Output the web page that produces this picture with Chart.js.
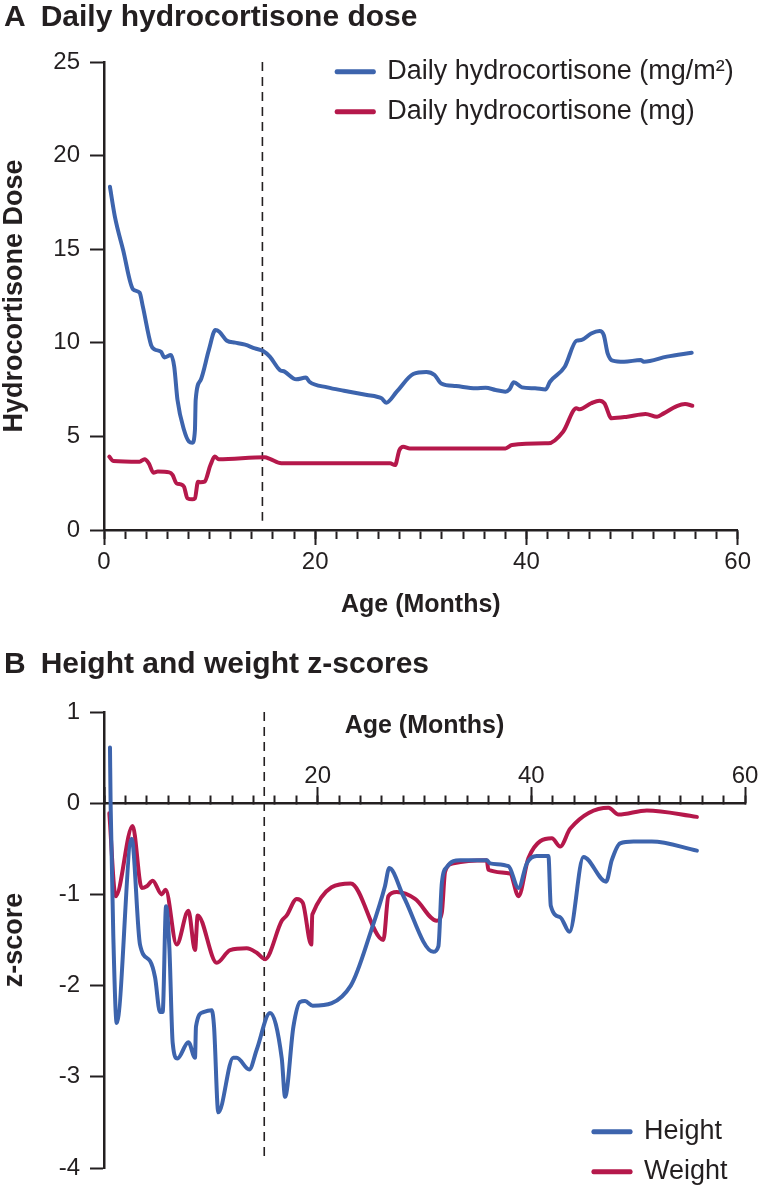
<!DOCTYPE html>
<html>
<head>
<meta charset="utf-8">
<script src="https://cdn.jsdelivr.net/npm/chart.js@4/dist/chart.umd.min.js"></script>
<style>
html,body{margin:0;padding:0;background:#fff;}
#wrap{position:relative;width:760px;height:1190px;overflow:hidden;}
canvas{position:absolute;left:0;}
#cA{top:0;}
#cB{top:620px;}
</style>
</head>
<body>
<div id="wrap">
<canvas id="cA" width="760" height="620"></canvas>
<canvas id="cB" width="760" height="570"></canvas>
</div>
<script>
// ---------- Panel A data: daily hydrocortisone dose ----------
const ageMgM2 = [0.56, 1.03, 1.81, 2.75, 3.37, 3.68, 4.46, 4.78, 5.40, 5.71, 6.34, 6.65, 6.96, 7.58, 8.05, 8.36, 8.61, 8.68, 9.15, 9.93, 10.55, 10.92, 11.64, 12.42, 13.36, 14.29, 15.07, 15.70, 16.64, 17.10, 18.20, 19.13, 19.45, 21.16, 22.72, 24.90, 25.84, 26.30, 26.72, 27.72, 29.28, 30.52, 31.30, 31.93, 33.33, 35.20, 36.14, 37.08, 38.01, 38.39, 38.80, 39.58, 40.82, 41.82, 42.23, 43.63, 44.73, 45.20, 46.13, 46.91, 47.32, 47.69, 48.16, 49.25, 50.81, 51.12, 53.30, 55.65];
const doseMgM2 = [18.34, 16.74, 14.96, 12.86, 12.68, 11.93, 9.88, 9.65, 9.52, 9.22, 9.35, 8.72, 6.94, 5.34, 4.72, 4.66, 5.34, 6.94, 8.01, 9.62, 10.68, 10.59, 10.11, 10.01, 9.90, 9.70, 9.56, 9.26, 8.55, 8.46, 8.05, 8.14, 7.92, 7.62, 7.44, 7.21, 7.12, 7.03, 6.80, 7.39, 8.33, 8.44, 8.28, 7.83, 7.69, 7.57, 7.60, 7.48, 7.39, 7.51, 7.89, 7.62, 7.57, 7.51, 7.92, 8.72, 10.11, 10.15, 10.50, 10.63, 10.42, 9.44, 9.05, 8.99, 9.08, 8.99, 9.26, 9.47];
const ageMg = [0.50, 0.87, 3.37, 3.84, 4.24, 4.68, 5.09, 6.18, 6.49, 6.87, 7.27, 7.58, 7.90, 8.36, 8.61, 8.90, 9.15, 9.52, 10.08, 10.49, 10.86, 15.23, 15.70, 16.79, 25.84, 27.09, 27.56, 27.97, 28.34, 28.96, 38.01, 38.64, 41.76, 42.07, 43.47, 44.73, 45.04, 46.13, 46.91, 47.38, 48.06, 49.56, 51.28, 52.37, 53.00, 54.24, 55.02, 55.71];
const doseMg = [3.92, 3.69, 3.65, 3.78, 3.56, 3.06, 3.12, 3.08, 2.94, 2.49, 2.44, 2.31, 1.69, 1.64, 1.69, 2.58, 2.55, 2.58, 3.47, 3.92, 3.78, 3.88, 3.80, 3.56, 3.56, 3.56, 3.47, 4.27, 4.45, 4.36, 4.36, 4.54, 4.63, 4.63, 5.25, 6.50, 6.45, 6.77, 6.91, 6.77, 5.97, 6.05, 6.20, 6.05, 6.23, 6.62, 6.73, 6.64];

// ---------- Panel B data: height and weight z-scores ----------
const ageHeight = [0.56, 0.62, 0.87, 1.19, 2.59, 3.37, 4.31, 4.78, 5.24, 5.49, 5.81, 6.12, 6.43, 6.87, 7.90, 8.52, 8.61, 9.30, 10.08, 10.30, 10.70, 12.10, 12.42, 13.60, 14.30, 15.54, 16.64, 16.95, 17.73, 18.35, 18.82, 19.54, 23.10, 25.00, 26.30, 26.70, 28.03, 30.83, 31.30, 31.62, 32.09, 33.33, 35.83, 36.14, 37.86, 38.80, 39.58, 40.50, 41.60, 41.82, 42.70, 43.57, 44.88, 47.00, 47.53, 48.31, 49.56, 51.28, 55.50];
const zHeight = [0.61, -0.02, -1.45, -2.41, -0.39, -1.55, -1.73, -1.91, -2.29, -2.29, -1.13, -1.59, -2.63, -2.80, -2.62, -2.79, -2.45, -2.29, -2.27, -2.45, -3.39, -2.79, -2.79, -2.92, -2.70, -2.30, -2.80, -3.22, -2.45, -2.18, -2.17, -2.22, -2.00, -1.40, -0.91, -0.71, -1.02, -1.63, -1.57, -0.88, -0.70, -0.625, -0.625, -0.66, -0.69, -0.93, -0.66, -0.58, -0.58, -1.125, -1.25, -1.41, -0.59, -0.86, -0.625, -0.44, -0.42, -0.42, -0.52];
const ageWeight = [0.50, 1.09, 2.68, 3.53, 4.00, 4.56, 5.40, 5.77, 6.80, 7.90, 8.52, 8.77, 10.55, 11.80, 13.36, 14.30, 15.07, 16.64, 17.10, 18.04, 18.60, 19.40, 19.50, 23.10, 26.15, 26.62, 27.40, 29.12, 31.15, 31.62, 31.93, 32.71, 35.83, 35.98, 38.00, 38.80, 39.73, 41.92, 42.70, 43.63, 47.22, 48.16, 50.81, 55.50];
const zWeight = [-0.11, -1.02, -0.25, -0.93, -0.91, -0.85, -1.00, -0.95, -1.55, -1.18, -1.61, -1.23, -1.75, -1.61, -1.59, -1.64, -1.71, -1.29, -1.23, -1.05, -1.09, -1.55, -1.22, -0.88, -1.50, -1.02, -0.975, -1.05, -1.29, -1.20, -0.75, -0.66, -0.625, -0.73, -0.77, -1.02, -0.60, -0.385, -0.475, -0.28, -0.05, -0.125, -0.08, -0.15];

// ---------- ticks / reference ----------
const ageTickLabelsA = [0, 20, 40, 60];
const ageTickLabelsB = [20, 40, 60];
const doseRange = [0, 25];
const zRange = [-4, 1];
const treatmentAge = 15;

const INK = '#231f20';
const BLUE = '#3d64ad';
const RED = '#b5184b';
Chart.defaults.font.family = "'Liberation Sans', Arial, Helvetica, sans-serif";
Chart.defaults.color = INK;

const pts = (xs, ys) => xs.map((x, i) => ({x, y: ys[i]}));
const lineStyle = (c) => ({
  borderColor: c, backgroundColor: c, borderWidth: 4, pointRadius: 0, pointHoverRadius: 0,
  cubicInterpolationMode: 'monotone', borderJoinStyle: 'round', borderCapStyle: 'round',
  fill: false, xAxisID: 'x', yAxisID: 'y'
});
const dashStyle = {
  label: '', borderColor: INK, backgroundColor: INK, borderWidth: 1.6, borderDash: [9, 6],
  pointRadius: 0, tension: 0, fill: false, xAxisID: 'x', yAxisID: 'y'
};

const legendMover = {
  id: 'legendMover',
  afterLayout(chart, args, opts) {
    const l = chart.legend;
    if (!l) return;
    const w = l.width, h = l.height;
    l.left = opts.x; l.top = opts.y; l.right = opts.x + w; l.bottom = opts.y + h;
  }
};

const legendCfg = {
  position: 'chartArea', align: 'start',
  labels: {
    font: {size: 27}, color: INK, boxWidth: 37, boxHeight: 1, padding: 13,
    filter: (item) => item.text !== ''
  }
};
const yTitleFont = {size: 27, weight: 'bold', lineHeight: 1};
const tickFont = {size: 24, lineHeight: 1.2};
const yTickFont = {size: 24, lineHeight: 1};

// ---------- Panel A ----------
new Chart(document.getElementById('cA'), {
  type: 'line',
  data: {
    datasets: [
      Object.assign({label: 'Daily hydrocortisone (mg/m\u00B2)', data: pts(ageMgM2, doseMgM2)}, lineStyle(BLUE)),
      Object.assign({label: 'Daily hydrocortisone (mg)', data: pts(ageMg, doseMg)}, lineStyle(RED)),
      Object.assign({data: [{x: treatmentAge, y: doseRange[1]}, {x: treatmentAge, y: 0.5}]}, dashStyle)
    ]
  },
  options: {
    responsive: false, animation: false, devicePixelRatio: 1,
    layout: {padding: {left: 4, right: 15, top: 0, bottom: 0}},
    plugins: {
      title: {display: true, text: 'A\u2002Daily hydrocortisone dose', align: 'start',
        font: {size: 30, weight: 'bold', lineHeight: 1.2}, color: INK, padding: {top: 0, bottom: 26}},
      legend: legendCfg,
      tooltip: {enabled: false},
      legendMover: {x: 323.75, y: 45.2}
    },
    scales: {
      x: {
        type: 'linear', axis: 'x', position: 'bottom', min: 0, max: 60,
        border: {display: true, color: INK, width: 2.5},
        grid: {drawOnChartArea: false, tickLength: 9, tickColor: INK, tickWidth: 2},
        ticks: {stepSize: 2, autoSkip: false, maxRotation: 0, minRotation: 0, maxTicksLimit: 100, padding: 9,
          font: tickFont, color: INK,
          callback: (v) => ageTickLabelsA.includes(v) ? String(v) : ''},
        title: {display: true, text: 'Age (Months)', font: {size: 25, weight: 'bold', lineHeight: 1.2}, color: INK,
          padding: {top: 0, bottom: 0}},
        afterFit: (s) => { s.height = 90; }
      },
      xMajor: {
        type: 'linear', axis: 'x', position: 'bottom', weight: -1, min: 0, max: 60,
        border: {display: false},
        grid: {drawOnChartArea: false, tickLength: 15, tickColor: INK, tickWidth: 2},
        ticks: {stepSize: 20, display: false},
        afterFit: (s) => { s.height = 0; }
      },
      y: {
        type: 'linear', position: 'left', min: doseRange[0], max: doseRange[1],
        border: {display: true, color: INK, width: 2.5},
        grid: {drawOnChartArea: false, tickLength: 14, tickColor: INK, tickWidth: 2},
        ticks: {stepSize: 5, padding: 10, font: yTickFont, color: INK},
        title: {display: true, text: 'Hydrocortisone Dose', font: yTitleFont, color: INK, padding: {top: -3, bottom: 0}},
        afterFit: (s) => { s.width = 100; }
      }
    }
  },
  plugins: [legendMover]
});

// ---------- Panel B ----------
new Chart(document.getElementById('cB'), {
  type: 'line',
  data: {
    datasets: [
      Object.assign({label: 'Height', data: pts(ageHeight, zHeight)}, lineStyle(BLUE)),
      Object.assign({label: 'Weight', data: pts(ageWeight, zWeight)}, lineStyle(RED)),
      Object.assign({data: [{x: treatmentAge, y: zRange[1]}, {x: treatmentAge, y: -3.9}]}, dashStyle)
    ]
  },
  options: {
    responsive: false, animation: false, devicePixelRatio: 1,
    layout: {padding: {left: 4, right: 15, top: 0, bottom: 12}},
    plugins: {
      title: {display: true, text: 'B\u2002Height and weight z-scores', align: 'start',
        font: {size: 30, weight: 'bold', lineHeight: 1.2}, color: INK, padding: {top: 27, bottom: 29}},
      legend: legendCfg,
      tooltip: {enabled: false},
      legendMover: {x: 580.5, y: 485.2}
    },
    scales: {
      x: {
        type: 'linear', axis: 'x', position: {y: 0}, min: 0, max: 60,
        border: {display: true, color: INK, width: 2.5},
        grid: {drawOnChartArea: false, tickLength: -9, tickColor: INK, tickWidth: 2},
        ticks: {stepSize: 2, autoSkip: false, maxRotation: 0, minRotation: 0, maxTicksLimit: 100, padding: -32,
          font: tickFont, color: INK,
          callback: (v) => ageTickLabelsB.includes(v) ? String(v) : ''},
        title: {display: true, text: 'Age (Months)', font: {size: 25, weight: 'bold', lineHeight: 1.2}, color: INK,
          padding: {top: 0, bottom: 62}},
        afterFit: (s) => { s.height = 0; }
      },
      xMajor: {
        type: 'linear', axis: 'x', position: {y: 0}, min: 0, max: 60,
        border: {display: false},
        grid: {drawOnChartArea: false, tickLength: -16, tickColor: INK, tickWidth: 2},
        ticks: {stepSize: 20, display: false},
        afterFit: (s) => { s.height = 0; }
      },
      y: {
        type: 'linear', position: 'left', min: zRange[0], max: zRange[1],
        border: {display: true, color: INK, width: 2.5},
        grid: {drawOnChartArea: false, tickLength: 14, tickColor: INK, tickWidth: 2},
        ticks: {stepSize: 1, padding: 10, font: yTickFont, color: INK},
        title: {display: true, text: 'z-score', font: yTitleFont, color: INK, padding: {top: -3, bottom: 0}},
        afterFit: (s) => { s.width = 100; }
      }
    }
  },
  plugins: [legendMover]
});
</script>
</body>
</html>
